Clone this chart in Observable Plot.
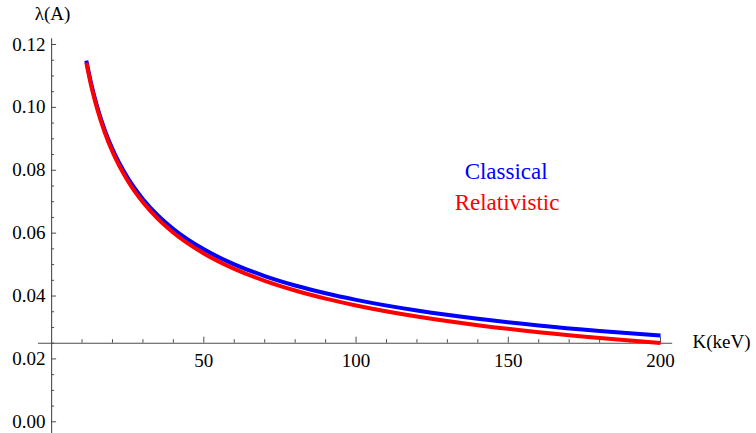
<!DOCTYPE html>
<html>
<head>
<meta charset="utf-8">
<script src="https://cdn.jsdelivr.net/npm/d3@7"></script>
<script src="https://cdn.jsdelivr.net/npm/@observablehq/plot@0.6"></script>
<style>
  html, body { margin: 0; padding: 0; background: #fff; }
  svg, svg text { font-family: "Liberation Serif", "Times New Roman", serif !important; }
</style>
</head>
<body>
<div id="chart"></div>
<script>
// Kinetic energy K (keV)
const energyKeV = [11.4, 13, 15, 17.5, 20, 25, 30, 35, 40, 50, 60, 70, 80, 90, 100, 120, 140, 160, 180, 200];
// Wavelength (Å), classical
const lambdaClassical = [0.11486, 0.10756, 0.10014, 0.09271, 0.08672, 0.07757, 0.07081, 0.06555, 0.06132, 0.05485, 0.05007, 0.04635, 0.04336, 0.04088, 0.03878, 0.03540, 0.03278, 0.03066, 0.02891, 0.02742];
// Wavelength (Å), relativistic
const lambdaRelativistic = [0.11422, 0.10688, 0.09941, 0.09193, 0.08588, 0.07664, 0.06979, 0.06446, 0.06015, 0.05355, 0.04866, 0.04484, 0.04176, 0.03919, 0.03701, 0.03349, 0.03074, 0.02851, 0.02666, 0.02508];

const xMajorTicks = [50, 100, 150, 200];
const xMinorTicks = [10, 20, 30, 40, 60, 70, 80, 90, 110, 120, 130, 140, 160, 170, 180, 190];
const yMajorTicks = [0, 0.02, 0.04, 0.06, 0.08, 0.10, 0.12];
const yMinorTicks = [0.005, 0.01, 0.015, 0.025, 0.03, 0.035, 0.045, 0.05, 0.055, 0.065, 0.07, 0.075, 0.085, 0.09, 0.095, 0.105, 0.11, 0.115];
const seriesNames = ["Classical", "Relativistic"];
const seriesColors = ["#0000ff", "#ff0000"];

const classical = energyKeV.map((k, i) => ({k, l: lambdaClassical[i]}));
const relativistic = energyKeV.map((k, i) => ({k, l: lambdaRelativistic[i]}));

const axisColor = "#4d4d4d";
const serif = "Liberation Serif";
const xAxisAt = 0.025;

const chart = Plot.plot({
  width: 756,
  height: 433,
  marginLeft: 51.1,
  marginRight: 96,
  marginTop: 44,
  marginBottom: 11.7,
  x: {domain: [0, 200], axis: null},
  y: {domain: [0, 0.12], axis: null},
  style: {fontFamily: serif, fontSize: "19px", background: "#fff", overflow: "visible"},
  marks: [
    // axis lines
    Plot.ruleY([xAxisAt], {x1: -4.3, x2: 204, stroke: axisColor, strokeWidth: 1.1}),
    Plot.ruleX([0], {y1: -0.004, y2: 0.1218, stroke: axisColor, strokeWidth: 1.1}),
    // y ticks
    Plot.ruleY(yMajorTicks, {y: d => d, x1: 0, x2: 0, insetRight: -5, stroke: axisColor}),
    Plot.ruleY(yMinorTicks, {y: d => d, x1: 0, x2: 0, insetRight: -3, stroke: axisColor}),
    // x ticks
    Plot.ruleX(xMajorTicks, {x: d => d, y1: xAxisAt, y2: xAxisAt, insetTop: -6, stroke: axisColor}),
    Plot.ruleX(xMinorTicks, {x: d => d, y1: xAxisAt, y2: xAxisAt, insetTop: -3.5, stroke: axisColor}),
    // tick labels
    Plot.axisY(yMajorTicks, {tickSize: 0, tickPadding: 6, tickFormat: d3.format(".2f"), label: null, fontSize: 19, fontFamily: serif, fill: "#000"}),
    Plot.text(xMajorTicks, {x: d => d, y: xAxisAt, dy: 18, text: d => String(d), fontSize: 19, fontFamily: serif, fill: "#000"}),
    // axis labels
    Plot.text(["λ(A)"], {x: 0, y: 0.1296, dx: 1, text: d => d, fontSize: 19, fontFamily: serif, fill: "#000"}),
    Plot.text(["K(keV)"], {x: 210.5, y: xAxisAt, dy: -1, text: d => d, textAnchor: "start", fontSize: 19, fontFamily: serif, fill: "#000"}),
    // curves
    Plot.line(classical, {x: "k", y: "l", stroke: seriesColors[0], strokeWidth: 4, strokeLinecap: "butt", curve: "monotone-x"}),
    Plot.line(relativistic, {x: "k", y: "l", stroke: seriesColors[1], strokeWidth: 4, strokeLinecap: "butt", curve: "monotone-x"}),
    // legend texts
    Plot.text([seriesNames[0]], {x: 149.3, y: 0.0796, text: d => d, fill: seriesColors[0], fontSize: 23, fontFamily: serif}),
    Plot.text([seriesNames[1]], {x: 149.6, y: 0.0696, text: d => d, fill: seriesColors[1], fontSize: 23, fontFamily: serif})
  ]
});
chart.setAttribute("font-family", serif);
document.getElementById("chart").appendChild(chart);
</script>
</body>
</html>
